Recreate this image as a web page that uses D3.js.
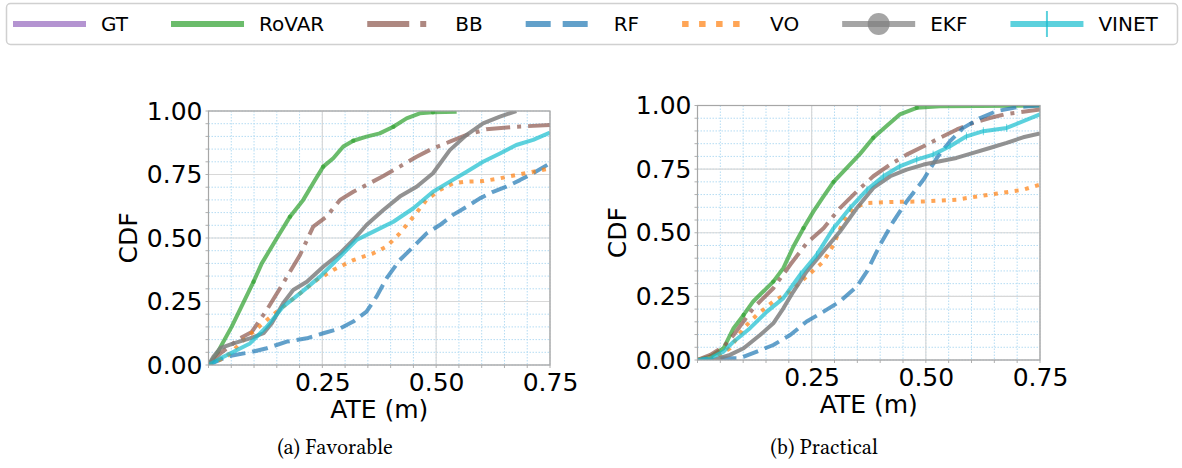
<!DOCTYPE html>
<html>
<head>
<meta charset="utf-8">
<script src="https://cdn.jsdelivr.net/npm/d3@7"></script>
<style>
  html, body { margin: 0; padding: 0; background: #fff; }
  svg { display: block; }
  text { font-family: "DejaVu Sans", sans-serif; fill: #000; }
  .caption { font-family: "Linux Libertine O", "Libertinus Serif", "Liberation Serif", serif; }
</style>
</head>
<body>
<svg id="chart"></svg>
<script>
// series names and tick labels
const seriesNames = ['GT', 'RoVAR', 'BB', 'RF', 'VO', 'EKF', 'VINET'];
const xTicks = [0.25, 0.5, 0.75];
const yTicks = [0, 0.25, 0.5, 0.75, 1];
const captions = ['(a) Favorable', '(b) Practical'];

// (a) Favorable — [ATE, CDF] pairs
const favRoVAR = [[0,0],[0.020,0.05],[0.051,0.151],[0.075,0.24],[0.099,0.328],[0.117,0.40],[0.150,0.499],[0.179,0.584],[0.208,0.65],[0.234,0.728],[0.252,0.781],[0.274,0.814],[0.296,0.860],[0.318,0.883],[0.347,0.899],[0.376,0.912],[0.406,0.938],[0.435,0.971],[0.464,0.991],[0.493,0.995],[0.545,0.997]];
const favBB = [[0,0],[0.026,0.046],[0.069,0.105],[0.095,0.13],[0.128,0.217],[0.164,0.322],[0.201,0.433],[0.230,0.545],[0.259,0.584],[0.289,0.65],[0.318,0.682],[0.347,0.709],[0.384,0.744],[0.420,0.781],[0.457,0.82],[0.493,0.853],[0.530,0.879],[0.567,0.906],[0.610,0.928],[0.676,0.938],[0.75,0.945]];
const favRF = [[0,0],[0.040,0.033],[0.091,0.05],[0.128,0.066],[0.172,0.092],[0.216,0.105],[0.252,0.125],[0.289,0.144],[0.318,0.171],[0.347,0.21],[0.369,0.269],[0.391,0.341],[0.420,0.413],[0.450,0.466],[0.479,0.518],[0.508,0.551],[0.537,0.591],[0.567,0.623],[0.596,0.656],[0.625,0.682],[0.654,0.702],[0.684,0.728],[0.713,0.755],[0.75,0.794]];
const favVO = [[0,0],[0.040,0.033],[0.077,0.098],[0.128,0.177],[0.164,0.23],[0.201,0.282],[0.238,0.335],[0.274,0.374],[0.318,0.413],[0.362,0.44],[0.391,0.466],[0.420,0.518],[0.450,0.584],[0.479,0.65],[0.508,0.689],[0.537,0.715],[0.567,0.722],[0.603,0.724],[0.640,0.735],[0.676,0.748],[0.713,0.761],[0.75,0.774]];
const favEKF = [[0,0],[0.011,0.033],[0.026,0.066],[0.055,0.085],[0.091,0.105],[0.121,0.125],[0.139,0.164],[0.164,0.243],[0.186,0.295],[0.216,0.328],[0.252,0.387],[0.289,0.44],[0.318,0.492],[0.347,0.551],[0.384,0.61],[0.420,0.663],[0.457,0.702],[0.493,0.755],[0.530,0.846],[0.567,0.906],[0.603,0.951],[0.640,0.978],[0.676,1.0]];
const favVINET = [[0,0],[0.026,0.026],[0.055,0.052],[0.091,0.085],[0.128,0.151],[0.164,0.23],[0.201,0.282],[0.245,0.348],[0.289,0.427],[0.325,0.492],[0.362,0.525],[0.406,0.564],[0.450,0.617],[0.493,0.682],[0.530,0.722],[0.567,0.761],[0.603,0.80],[0.640,0.833],[0.676,0.866],[0.713,0.886],[0.75,0.915]];

// (b) Practical
const prcRoVAR = [[0,0],[0.028,0.013],[0.057,0.046],[0.079,0.125],[0.101,0.177],[0.122,0.23],[0.144,0.269],[0.166,0.308],[0.188,0.361],[0.210,0.446],[0.232,0.518],[0.254,0.584],[0.276,0.643],[0.298,0.70],[0.327,0.755],[0.356,0.81],[0.385,0.873],[0.414,0.919],[0.443,0.965],[0.480,0.991],[0.531,0.997],[0.75,1.0]];
const prcBB = [[0,0],[0.028,0.02],[0.057,0.052],[0.079,0.098],[0.122,0.203],[0.166,0.282],[0.203,0.374],[0.239,0.459],[0.276,0.518],[0.312,0.597],[0.349,0.663],[0.385,0.722],[0.422,0.768],[0.458,0.807],[0.495,0.84],[0.531,0.873],[0.568,0.906],[0.604,0.932],[0.640,0.951],[0.677,0.967],[0.75,0.984]];
const prcRF = [[0,0],[0.057,0.007],[0.093,0.007],[0.130,0.033],[0.166,0.059],[0.203,0.098],[0.239,0.151],[0.276,0.19],[0.312,0.23],[0.349,0.289],[0.371,0.348],[0.400,0.453],[0.429,0.545],[0.458,0.623],[0.495,0.709],[0.524,0.794],[0.553,0.86],[0.582,0.912],[0.619,0.951],[0.655,0.978],[0.699,0.993],[0.75,1.0]];
const prcVO = [[0,0],[0.042,0.013],[0.071,0.046],[0.101,0.125],[0.130,0.177],[0.166,0.23],[0.203,0.269],[0.239,0.328],[0.276,0.387],[0.298,0.453],[0.319,0.545],[0.341,0.597],[0.371,0.617],[0.422,0.621],[0.495,0.623],[0.567,0.63],[0.640,0.65],[0.713,0.669],[0.75,0.689]];
const prcEKF = [[0,0],[0.035,0.0],[0.071,0.02],[0.101,0.046],[0.137,0.098],[0.166,0.144],[0.188,0.203],[0.210,0.269],[0.239,0.348],[0.276,0.427],[0.312,0.505],[0.349,0.597],[0.385,0.676],[0.422,0.722],[0.458,0.748],[0.495,0.768],[0.531,0.781],[0.567,0.794],[0.604,0.814],[0.640,0.833],[0.677,0.853],[0.713,0.875],[0.75,0.89]];
const prcVINET = [[0,0],[0.028,0.007],[0.057,0.033],[0.079,0.072],[0.115,0.125],[0.152,0.19],[0.188,0.243],[0.225,0.335],[0.261,0.413],[0.298,0.518],[0.334,0.597],[0.371,0.669],[0.407,0.722],[0.443,0.761],[0.480,0.787],[0.516,0.807],[0.553,0.84],[0.589,0.879],[0.626,0.899],[0.677,0.912],[0.75,0.965]];

const favData = { RoVAR: favRoVAR, BB: favBB, RF: favRF, VO: favVO, EKF: favEKF, VINET: favVINET };
const prcData = { RoVAR: prcRoVAR, BB: prcBB, RF: prcRF, VO: prcVO, EKF: prcEKF, VINET: prcVINET };

const styles = {
  GT:    { color: '#9467bd', dash: null, legendDash: null },
  RoVAR: { color: '#2ca02c', dash: null, legendDash: null },
  BB:    { color: '#8c564b', dash: '24,7,4,7', legendDash: '42,11,6,20' },
  RF:    { color: '#1f77b4', dash: '16,7', legendDash: '25,12' },
  VO:    { color: '#ff7f0e', dash: '4,6.5', legendDash: '6.5,10.5,6.5,10.5,6.5,10.5,6.5,20' },
  EKF:   { color: '#7f7f7f', dash: null, legendDash: null },
  VINET: { color: '#17becf', dash: null, legendDash: null }
};

const width = 1182, height = 468;
const svg = d3.select('#chart').attr('width', width).attr('height', height);

const panels = [
  { left: 208.5, top: 111, right: 550, bottom: 365, data: favData, caption: captions[0], capX: 335, fuzzy: false },
  { left: 697.5, top: 105.5, right: 1040, bottom: 360, data: prcData, caption: captions[1], capX: 824, fuzzy: true }
];

const minor = d3.range(0, 1.0001, 0.05);

panels.forEach(function (p, i) {
  const x = d3.scaleLinear().domain([0, 0.75]).range([p.left, p.right]);
  const y = d3.scaleLinear().domain([0, 1]).range([p.bottom, p.top]);
  const g = svg.append('g').attr('class', 'panel');

  g.append('clipPath').attr('id', 'clip' + i)
    .append('rect')
      .attr('x', p.left).attr('y', p.top)
      .attr('width', p.right - p.left).attr('height', p.bottom - p.top);

  // minor grid
  g.selectAll('.mx').data(minor.filter(d => d <= 0.75)).enter().append('line')
    .attr('x1', d => x(d)).attr('x2', d => x(d))
    .attr('y1', p.top).attr('y2', p.bottom)
    .attr('stroke', '#b5dcf3').attr('stroke-width', 1).attr('stroke-dasharray', '1.5,1.5');
  g.selectAll('.my').data(minor).enter().append('line')
    .attr('y1', d => y(d)).attr('y2', d => y(d))
    .attr('x1', p.left).attr('x2', p.right)
    .attr('stroke', '#b5dcf3').attr('stroke-width', 1).attr('stroke-dasharray', '1.5,1.5');

  // major grid
  g.selectAll('.gx').data(xTicks).enter().append('line')
    .attr('x1', d => x(d)).attr('x2', d => x(d))
    .attr('y1', p.top).attr('y2', p.bottom)
    .attr('stroke', '#d8d8d8').attr('stroke-width', 1.2);
  g.selectAll('.gy').data(yTicks).enter().append('line')
    .attr('y1', d => y(d)).attr('y2', d => y(d))
    .attr('x1', p.left).attr('x2', p.right)
    .attr('stroke', '#d8d8d8').attr('stroke-width', 1.2);

  // minor ticks on the spines
  g.selectAll('.tx').data(minor.filter(d => d <= 0.75)).enter().append('line')
    .attr('x1', d => x(d)).attr('x2', d => x(d))
    .attr('y1', p.bottom).attr('y2', p.bottom + 3)
    .attr('stroke', '#b0b0b0');
  g.selectAll('.ty').data(minor).enter().append('line')
    .attr('y1', d => y(d)).attr('y2', d => y(d))
    .attr('x1', p.left - 3).attr('x2', p.left)
    .attr('stroke', '#b0b0b0');

  // curves
  const line = d3.line().x(d => x(d[0])).y(d => y(d[1]));
  const curves = g.append('g').attr('clip-path', 'url(#clip' + i + ')');
  seriesNames.forEach(function (name) {
    const pts = p.data[name];
    if (!pts) return;
    const st = styles[name];
    curves.append('path')
      .datum(pts)
      .attr('d', line)
      .attr('fill', 'none')
      .attr('stroke', st.color)
      .attr('stroke-opacity', name === 'EKF' ? 0.85 : 0.7)
      .attr('stroke-width', 4)
      .attr('stroke-linejoin', 'round')
      .attr('stroke-dasharray', st.dash);
    if (name === 'RoVAR') {
      curves.selectAll('.mk').data(pts.filter((d, k) => k % 3 === 1)).enter().append('circle')
        .attr('cx', d => x(d[0])).attr('cy', d => y(d[1])).attr('r', 2.2)
        .attr('fill', st.color).attr('fill-opacity', 0.6);
    }
    if (name === 'VINET' && p.fuzzy) {
      curves.selectAll('.vk').data(pts.filter(d => d[0] > 0.2)).enter().append('line')
        .attr('x1', d => x(d[0])).attr('x2', d => x(d[0]))
        .attr('y1', d => y(d[1]) - 4).attr('y2', d => y(d[1]) + 4)
        .attr('stroke', st.color).attr('stroke-opacity', 0.6).attr('stroke-width', 1);
    }
  });

  // frame
  g.append('rect')
    .attr('x', p.left).attr('y', p.top)
    .attr('width', p.right - p.left).attr('height', p.bottom - p.top)
    .attr('fill', 'none').attr('stroke', '#a6a6a6').attr('stroke-width', 1.2);

  // axes
  const xAxis = g.append('g')
    .attr('transform', 'translate(0,' + p.bottom + ')')
    .call(d3.axisBottom(x).tickValues(xTicks).tickFormat(d3.format('.2f')).tickSize(0).tickPadding(8));
  const yAxis = g.append('g')
    .attr('transform', 'translate(' + p.left + ',0)')
    .call(d3.axisLeft(y).tickValues(yTicks).tickFormat(d3.format('.2f')).tickSize(0).tickPadding(6));
  [xAxis, yAxis].forEach(function (a) {
    a.select('.domain').remove();
    a.selectAll('text').style('font-family', '"DejaVu Sans", sans-serif').style('font-size', '25px').attr('fill', '#000');
  });

  g.append('text')
    .attr('x', (p.left + p.right) / 2).attr('y', p.bottom + 53)
    .attr('text-anchor', 'middle').style('font-size', '25px')
    .text('ATE (m)');
  g.append('text')
    .attr('transform', 'translate(' + (p.left - 72) + ',' + ((p.top + p.bottom) / 2) + ') rotate(-90)')
    .attr('text-anchor', 'middle').style('font-size', '25px')
    .text('CDF');

  g.append('text').attr('class', 'caption')
    .attr('x', p.capX).attr('y', 454)
    .attr('text-anchor', 'middle').style('font-size', '22px')
    .text(p.caption);
});

// legend
const legend = svg.append('g').attr('class', 'legend');
legend.append('rect')
  .attr('x', 6.5).attr('y', 3.5).attr('width', 1171).attr('height', 41).attr('rx', 4)
  .attr('fill', '#fff').attr('stroke', '#d0d0d0').attr('stroke-width', 1.5);

let textX = 101;
seriesNames.forEach(function (name) {
  const st = styles[name];
  const item = legend.append('g');
  const x0 = textX - 88, x1 = x0 + 73, ly = 24;
  item.append('line')
    .attr('x1', x0).attr('x2', x1).attr('y1', ly).attr('y2', ly)
    .attr('stroke', st.color).attr('stroke-opacity', 0.7).attr('stroke-width', 6)
    .attr('stroke-dasharray', st.legendDash);
  if (name === 'EKF') {
    item.append('circle').attr('cx', (x0 + x1) / 2).attr('cy', ly).attr('r', 11)
      .attr('fill', st.color).attr('fill-opacity', 0.7);
  }
  if (name === 'VINET') {
    item.append('line')
      .attr('x1', (x0 + x1) / 2).attr('x2', (x0 + x1) / 2).attr('y1', ly - 13).attr('y2', ly + 13)
      .attr('stroke', st.color).attr('stroke-opacity', 0.7).attr('stroke-width', 2);
  }
  const t = item.append('text')
    .attr('x', textX).attr('y', ly).attr('dy', '0.36em')
    .style('font-size', '20px')
    .text(name);
  textX += t.node().getComputedTextLength() + 131;
});
</script>
</body>
</html>
